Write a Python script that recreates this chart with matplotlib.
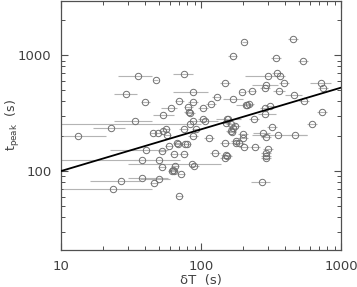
import matplotlib
matplotlib.use("Agg")
import matplotlib.pyplot as plt
import numpy as np

# dT (s), lower / upper dT bound (s), t_peak (s)
dT = [13.2, 22.8, 23.5, 26.8, 29.1, 33.8, 35.5, 37.9, 37.9, 39.8,
      40.5, 45.4, 46.2, 47.7, 49.3, 50.1, 50.1, 52.6, 52.6, 53.5,
      53.5, 56.2, 57.2, 59.1, 61.1, 62.1, 64.1, 63.1, 64.1, 65.2,
      67.4, 68.5, 69.7, 69.7, 72.0, 75.6, 75.6, 75.6, 76.9, 79.4,
      80.8, 82.1, 83.4, 83.4, 86.3, 87.7, 87.7, 87.7, 87.7, 89.1,
      92.1, 103, 103, 107, 114, 118, 126, 130, 148, 148,
      148, 151, 151, 153, 153, 156, 164, 164, 166, 169,
      169, 169, 175, 178, 178, 187, 196, 200, 200, 203,
      203, 210, 213, 220, 231, 239, 243, 273, 277, 286,
      286, 286, 291, 291, 291, 291, 291, 301, 301, 311,
      321, 343, 349, 355, 361, 367, 392, 454, 461, 469,
      535, 544, 621, 719, 731, 743]
dT_lo = [10.3, 16.9, 10.3, 16.1, 23.9, 23.9, 25.5, 33.0, 30.1, 37.0,
         22.4, 43.2, 43.2, 45.4, 46.0, 5.0, 36.7, 49.0, 49.0, 45.4,
         50.0, 53.0, 54.0, 55.0, 51.8, 58.0, 60.0, 59.0, 60.0, 61.0,
         63.0, 64.0, 65.0, 66.0, 67.0, 63.1, 70.0, 70.0, 72.0, 74.0,
         75.0, 76.0, 5.0, 77.0, 30.1, 63.1, 81.0, 81.0, 81.0, 83.0,
         86.0, 95.0, 95.0, 95.2, 105, 109, 116, 120, 137, 137,
         137, 140, 140, 128, 142, 144, 152, 152, 154, 156,
         144, 156, 162, 165, 165, 173, 187, 185, 185, 195,
         188, 178, 197, 204, 214, 221, 225, 228, 235, 265,
         265, 255, 231, 270, 270, 270, 270, 206, 279, 288,
         297, 318, 323, 231, 327, 340, 363, 420, 398, 420,
         495, 504, 575, 601, 677, 688]
dT_hi = [21.0, 28.7, 44.7, 36.7, 34.9, 44.7, 44.7, 43.0, 58.0, 43.0,
         58.1, 47.7, 49.3, 49.3, 53.0, 70.8, 60.1, 56.0, 56.0, 64.1,
         57.0, 60.0, 61.0, 63.0, 67.4, 66.0, 68.0, 67.0, 68.0, 70.0,
         72.0, 73.0, 75.0, 74.0, 77.0, 87.7, 81.0, 81.0, 82.0, 85.0,
         87.0, 88.0, 100, 90.0, 139, 112, 95.0, 95.0, 95.0, 96.0,
         99.0, 112, 112, 132, 123, 128, 136, 140, 160, 160,
         160, 163, 163, 193, 166, 168, 177, 177, 179, 182,
         200, 182, 189, 192, 192, 202, 210, 216, 216, 212,
         219, 235, 230, 238, 249, 258, 262, 311, 311, 309,
         309, 343, 355, 314, 314, 314, 314, 385, 325, 336,
         347, 370, 377, 575, 398, 396, 423, 490, 526, 575,
         578, 588, 671, 849, 790, 803]
t_peak = [200, 237, 70, 82, 461, 270, 659, 124, 87, 393,
          152, 213, 78.8, 609, 213, 124, 85.3, 149, 108, 304,
          221, 230, 204, 164, 349, 100, 100, 102, 140, 110,
          174, 171, 401, 60.8, 94.3, 686, 230, 140, 171, 171,
          356, 323, 254, 316, 115, 480, 393, 270, 200, 110,
          230, 349, 281, 270, 192, 378, 143, 434, 574, 174,
          129, 259, 137, 281, 135, 281, 254, 221, 217, 980,
          418, 235, 244, 181, 174, 174, 480, 208, 192, 1294,
          161, 371, 371, 378, 490, 281, 161, 80.4, 213, 520,
          349, 310, 551, 196, 143, 135, 129, 659, 155, 363,
          239, 942, 700, 204, 490, 659, 574, 1374, 452, 204,
          887, 401, 254, 574, 323, 520]

# power-law fit: t_peak = fit_norm * (dT / 10) ** fit_slope
fit_norm = 100.0
fit_slope = 0.36
fit_x = [10, 1000]

dT_a = np.array(dT)
xerr = [dT_a - np.array(dT_lo), np.array(dT_hi) - dT_a]

fig = plt.figure(figsize=(3.57, 2.87), dpi=100)
ax = fig.add_axes([0.171, 0.129, 0.784, 0.868])

ax.errorbar(dT, t_peak, xerr=xerr, fmt='o', ms=4.6, mfc='none',
            mec='#707070', mew=0.7, ecolor='#b4b4b4', elinewidth=0.8,
            capsize=0, zorder=2)
fx = np.array(fit_x, dtype=float)
ax.plot(fx, fit_norm * (fx / 10.0) ** fit_slope, color='black', lw=1.3, zorder=3)

ax.set_xscale('log')
ax.set_yscale('log')
ax.set_xlim(10, 1000)
ax.set_ylim(20.8, 2950)

ax.set_xticks([10, 100, 1000])
ax.set_xticklabels(['10', '100', '1000'])
ax.set_yticks([100, 1000])
ax.set_yticklabels(['100', '1000'])

for s in ax.spines.values():
    s.set_color('#505050')
    s.set_linewidth(0.9)
ax.tick_params(which='both', direction='in', top=True, right=True,
               colors='#505050', labelcolor='#404040', labelsize=9.5)
ax.tick_params(which='major', length=5, width=0.8, pad=7)
ax.tick_params(which='minor', length=3, width=0.7)

ax.set_xlabel('δT  (s)', fontsize=9.5, color='#404040', labelpad=1)
ax.set_ylabel(r'$\mathregular{t_{peak}}$  (s)', fontsize=9, color='#404040')
ax.yaxis.set_label_coords(-0.14, 0.5)

fig.savefig('out.png', dpi=100)
